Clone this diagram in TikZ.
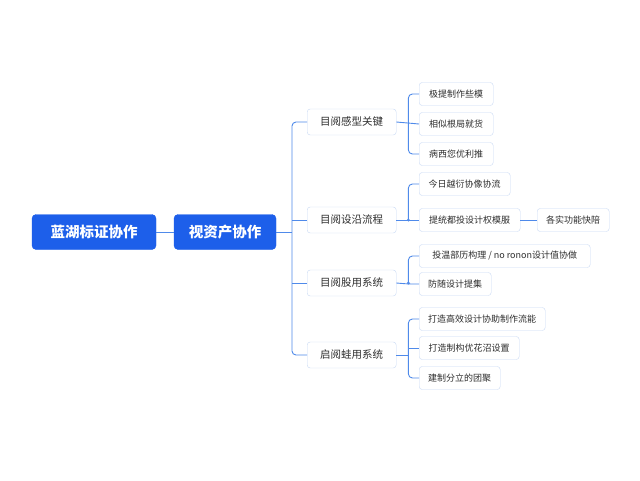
\documentclass[tikz,border=0pt]{standalone}
\usepackage{fontspec}
\setmainfont{Noto Sans CJK SC}
\usetikzlibrary{positioning}
\definecolor{mainblue}{HTML}{1D5FEA}
\definecolor{linkblue}{HTML}{4F8AEA}
\definecolor{boxline}{HTML}{C9DAF4}
\definecolor{txt}{HTML}{2E2E2E}
\begin{document}
\begin{tikzpicture}[x=1pt,y=-1pt,
    rootbox/.style={fill=mainblue, draw=mainblue, rounded corners=4pt, text=white,
        font=\fontsize{14.5}{16}\selectfont\bfseries, minimum height=35pt, inner xsep=0pt},
    topicbox/.style={fill=white, draw=boxline, rounded corners=3pt, text=txt,
        font=\fontsize{10.5}{12}\selectfont, minimum height=26pt, minimum width=89pt, anchor=west},
    leafbox/.style={fill=white, draw=boxline, rounded corners=3pt, text=txt,
        font=\fontsize{9}{11}\selectfont, minimum height=23pt, inner xsep=9pt, anchor=west},
    link/.style={draw=linkblue, line width=0.9pt, rounded corners=4pt}]
    \fill[white] (0,0) rectangle (640,480);
    \useasboundingbox (0,0) rectangle (640,480);
    % root
    \node[rootbox, minimum width=124pt] (root) at (94,232) {蓝湖标证协作};
    \node[rootbox, minimum width=102pt] (asset) at (225,232) {视资产协作};
    % topics
    \node[topicbox] (t1) at (307,122) {目阅感型关键};
    \node[topicbox] (t2) at (307,220) {目阅设沿流程};
    \node[topicbox] (t3) at (307,283) {目阅股用系统};
    \node[topicbox] (t4) at (307,355) {启阅蛙用系统};
    % leaves
    \node[leafbox, minimum width=74pt] (a1) at (419,94) {极提制作些模};
    \node[leafbox, minimum width=74pt] (a2) at (419,124) {相似根局就货};
    \node[leafbox, minimum width=74pt] (a3) at (419,154) {病西您优利推};
    \node[leafbox, minimum width=91pt] (b1) at (419,184) {今日越衍协像协流};
    \node[leafbox, minimum width=101pt] (b2) at (419,220) {提统都投设计权模服};
    \node[leafbox, minimum width=70pt] (b3) at (537,220) {各实功能快陪};
    \node[leafbox, minimum width=171pt] (c1) at (419,256) {投温部历构理 / no ronon设计值协做};
    \node[leafbox, minimum width=64pt] (c2) at (419,284) {防随设计提集};
    \node[leafbox, minimum width=126pt] (d1) at (419,319) {打造高效设计协助制作流能};
    \node[leafbox, minimum width=100pt] (d2) at (419,348) {打造制构优花沼设置};
    \node[leafbox, minimum width=78pt] (d3) at (419,378) {建制分立的团聚};
    % connectors
    \coordinate (spine) at (292,232);
    \draw[link] (root.east) -- (asset.west);
    \draw[link] (asset.east) -- (spine);
    \draw[link] (t1.west) -| (spine) |- (t4.west);
    \draw[link] (spine |- t2.west) -- (t2.west);
    \draw[link] (spine |- t3.west) -- (t3.west);
    \foreach \t in {t1,t2,t3,t4}
        \coordinate (\t j) at ([xshift=12pt]\t.east);
    % first topic
    \draw[link] (t1.east) -- (a2.west);
    \draw[link] (a1.west) -| (t1j) |- (a3.west);
    % second topic
    \draw[link] (t2.east) -- (b2.west);
    \draw[link] (t2j) |- (b1.west);
    \draw[link] (b2.east) -- (b3.west);
    % third topic
    \draw[link] (t3.east) -- (t3j |- c2.west) -- (c2.west);
    \draw[link] (t3j) |- (c1.west);
    % fourth topic
    \draw[link] (t4.east) -- (t4j);
    \draw[link] (d1.west) -| (t4j) |- (d3.west);
    \draw[link] (t4j |- d2.west) -- (d2.west);
    \fill[linkblue] (t2j) circle (1.6);
    \fill[linkblue] (t3j) circle (1.6);
\end{tikzpicture}
\end{document}
